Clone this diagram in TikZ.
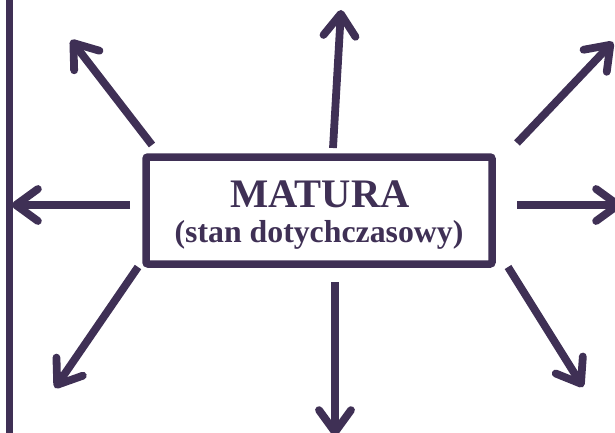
\documentclass[tikz,border=0pt]{standalone}
\usepackage{fontspec}
\setmainfont{Liberation Serif}
\usetikzlibrary{arrows.meta}
\definecolor{ink}{HTML}{3F3055}
\tikzset{
  conn/.style={draw=ink, line width=7.8pt, -{Straight Barb[length=22pt,width=32pt,round]}},
  frame/.style={draw=ink, line width=7.5pt, rounded corners=2pt, minimum width=346pt, minimum height=107pt, inner sep=0pt},
  title/.style={text=ink, font=\bfseries\fontsize{40.5}{40.5}\selectfont, anchor=base, inner sep=0pt},
  sub/.style={text=ink, font=\bfseries\fontsize{31.8}{31.8}\selectfont, anchor=base, inner sep=0pt}
}
\begin{document}
\begin{tikzpicture}[x=1pt,y=-1pt]
\useasboundingbox (0,0) rectangle (615,433);
\clip (0,0) rectangle (615,433);
\node[frame] (box) at (319,210.5) {};
\node[title] (t1) at (320,207) {MATURA};
\node[sub] (t2) at (319,242) {(stan dotychczasowy)};
\coordinate (wallTop) at (9.5,0);
\coordinate (wallBot) at (9.5,433);
\draw[ink, line width=7pt] (wallTop) -- (wallBot);
% tails
\coordinate (tU) at (333,148);
\coordinate (tD) at (335,282);
\coordinate (tL) at (130,205);
\coordinate (tR) at (517,205);
\coordinate (tUL) at (152,145);
\coordinate (tUR) at (517,143);
\coordinate (tDL) at (138,267);
\coordinate (tDR) at (508,267);
% tips
\coordinate (hU) at (341,10);
\coordinate (hD) at (335,436);
\coordinate (hL) at (12,205);
\coordinate (hR) at (622,205);
\coordinate (hUL) at (71,40);
\coordinate (hUR) at (613,42);
\coordinate (hDL) at (55,388);
\coordinate (hDR) at (583,387);
\draw[conn] (tU) -- (hU);
\draw[conn] (tD) -- (hD);
\draw[conn] (tL) -- (hL);
\draw[conn] (tR) -- (hR);
\draw[conn] (tUL) -- (hUL);
\draw[conn] (tUR) -- (hUR);
\draw[conn] (tDL) -- (hDL);
\draw[conn] (tDR) -- (hDR);
\end{tikzpicture}
\end{document}
